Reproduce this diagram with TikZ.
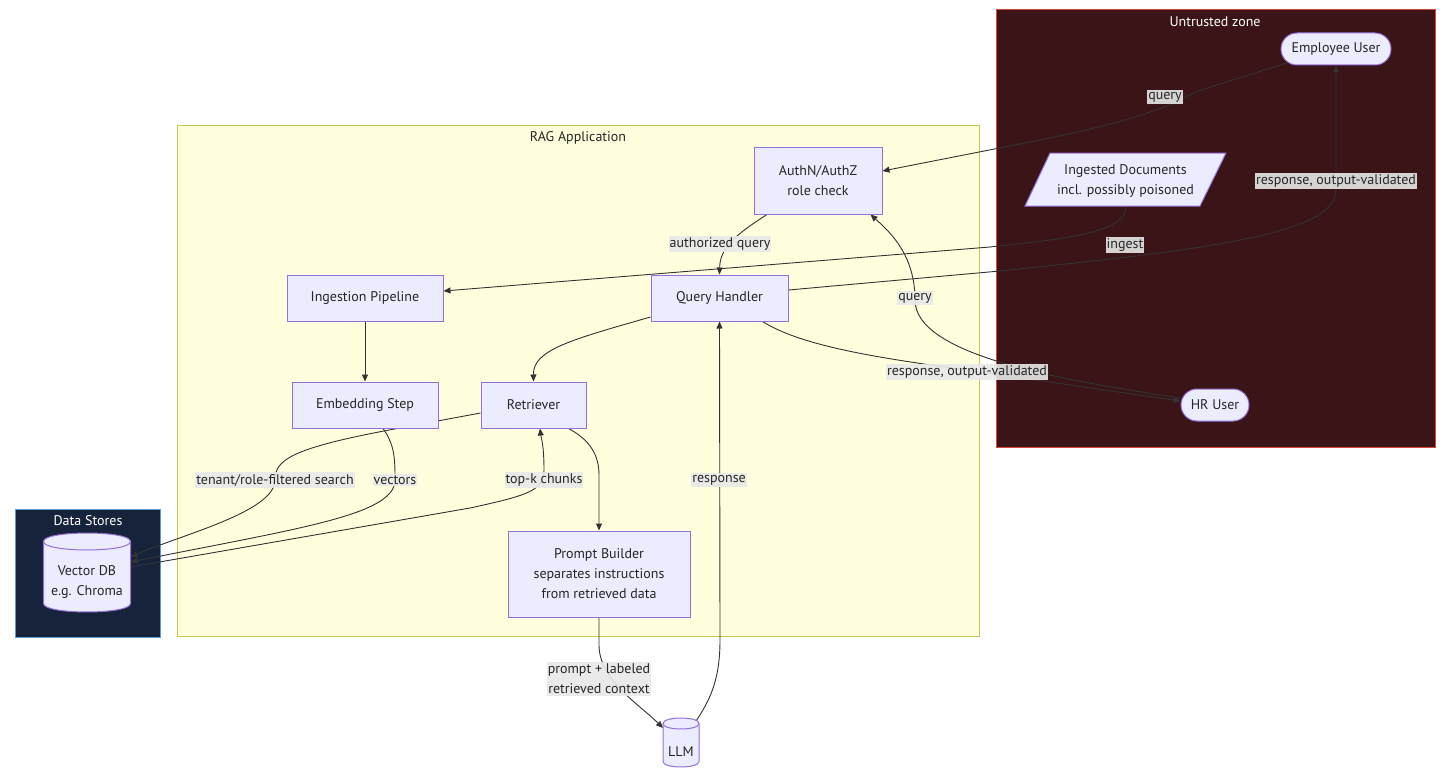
\documentclass[tikz,border=0pt]{standalone}
\usepackage{fontspec}
\setmainfont{PT Sans}
\usetikzlibrary{arrows.meta,calc}
\definecolor{nodefill}{HTML}{ECECFF}
\definecolor{nodeline}{HTML}{9370DB}
\definecolor{ragfill}{HTML}{FFFFDE}
\definecolor{ragline}{HTML}{C8C850}
\definecolor{untrfill}{HTML}{3A1416}
\definecolor{untrline}{HTML}{D9453B}
\definecolor{dsfill}{HTML}{16233A}
\definecolor{dsline}{HTML}{5B9BD0}
\definecolor{edgec}{HTML}{333333}
\definecolor{textc}{HTML}{262626}
\definecolor{labelbg}{HTML}{E8E8E8}
\pgfdeclarelayer{bg}
\pgfdeclarelayer{edges}
\pgfsetlayers{bg,edges,main}
\tikzset{
  box/.style={draw=nodeline, fill=nodefill, line width=1pt, text=textc, align=center, inner sep=0pt},
  stadium/.style={box, rounded corners=16pt},
  shapeln/.style={draw=nodeline, fill=nodefill, line width=1pt},
  txt/.style={text=textc, align=center, inner sep=0pt},
  edge/.style={draw=edgec, line width=0.9pt, -{Triangle[length=7pt,width=6pt]}},
  elabel/.style={fill=labelbg, fill opacity=0.9, text opacity=1, text=textc, inner xsep=1pt, inner ysep=2pt, align=center},
  ctitle/.style={inner sep=0pt}
}
\begin{document}
\begin{tikzpicture}[x=1pt,y=-1pt,font=\fontsize{14}{20}\selectfont]
\useasboundingbox (0,0) rectangle (1456,773);
\begin{pgfonlayer}{bg}
\fill[white] (0,0) rectangle (1456,773);
\filldraw[fill=ragfill, draw=ragline, line width=1pt] (177,126) rectangle (979,636);
\filldraw[fill=untrfill, draw=untrline, line width=1pt] (996,10) rectangle (1435,447);
\filldraw[fill=dsfill, draw=dsline, line width=1pt] (15,509) rectangle (160,637);
\end{pgfonlayer}
\node[ctitle, text=textc] (ragtitle) at (578,138) {RAG Application};
\node[ctitle, text=white] (untrtitle) at (1215,22) {Untrusted zone};
\node[ctitle, text=white] (dstitle) at (88,521) {Data Stores};

% nodes
\node[box, minimum width=128pt, minimum height=66pt] (authn) at (818,181) {AuthN/AuthZ\\role check};
\node[box, minimum width=137pt, minimum height=46pt] (qh) at (719.5,298) {Query Handler};
\node[box, minimum width=156pt, minimum height=46pt] (ingp) at (365,298) {Ingestion Pipeline};
\node[box, minimum width=146pt, minimum height=46pt] (embed) at (365,405) {Embedding Step};
\node[box, minimum width=105pt, minimum height=46pt] (retr) at (533.5,405) {Retriever};
\node[box, minimum width=182pt, minimum height=86pt] (pb) at (599,574) {Prompt Builder\\separates instructions\\from retrieved data};
\node[stadium, minimum width=110pt, minimum height=32pt] (emp) at (1336,49) {Employee User};
\node[stadium, minimum width=68pt, minimum height=32pt] (hr) at (1215,405) {HR User};
% parallelogram
\filldraw[shapeln] (1050,153) -- (1226,153) -- (1200,206) -- (1025,206) -- cycle;
\node[txt, minimum width=170pt, minimum height=53pt] (docs) at (1125.5,180.5) {Ingested Documents\\incl. possibly poisoned};
% vector db cylinder
\filldraw[shapeln] (43.5,541.5) -- (43.5,603.5) .. controls (43.5,614.8) and (130.5,614.8) .. (130.5,603.5) -- (130.5,541.5) .. controls (130.5,530.2) and (43.5,530.2) .. cycle;
\draw[draw=nodeline, line width=1pt] (43.5,541.5) .. controls (43.5,552.8) and (130.5,552.8) .. (130.5,541.5);
\node[txt, minimum width=87pt] (vdb) at (87,582.5) {Vector DB\\e.g. Chroma};
% llm cylinder
\filldraw[shapeln] (663,723.5) -- (663,761.5) .. controls (663,768.8) and (699,768.8) .. (699,761.5) -- (699,723.5) .. controls (699,716.2) and (663,716.2) .. cycle;
\draw[draw=nodeline, line width=1pt] (663,723.5) .. controls (663,730.8) and (699,730.8) .. (699,723.5);
\node[txt, minimum width=36pt] (llm) at (681,752) {LLM};

\begin{pgfonlayer}{edges}
% Employee -> AuthN
\draw[edge] ([xshift=-48pt,yshift=3pt]emp.south) -- (1195,92) .. controls (1165,110) and (1120,124) .. (1030,142) -- ([yshift=10pt]authn.east);
% HR -> AuthN
\draw[edge] ([yshift=7pt]hr.west) .. controls (1060,380) and (915,355) .. (915,300) .. controls (915,255) and (890,232) .. ([xshift=-12pt]authn.south east);
% AuthN -> QH
\draw[edge] ([xshift=-51pt]authn.south) .. controls (735,235) and (720,248) .. (qh.north);
% Docs -> Ingestion
\draw[edge] (docs.south) .. controls (1126,235) and (1050,240) .. (990,247) -- ([yshift=7pt]ingp.east);
% QH -> Employee
\draw[edge] ([yshift=8pt]qh.east) -- (1000,271) .. controls (1200,250) and (1336,235) .. (1336,190) -- (emp.south);
% QH -> HR
\draw[edge] ([xshift=43pt]qh.south) .. controls (800,345) and (870,357) .. (967,370) -- ([yshift=4pt]hr.west);
% QH -> Retriever
\draw[edge] ([yshift=-19pt]qh.west) .. controls (570,340) and (533,350) .. (retr.north);
% Ingestion -> Embedding
\draw[edge] (ingp.south) -- (embed.north);
% Embedding -> VDB
\draw[edge] ([xshift=18pt]embed.south) .. controls (395,445) and (395,460) .. (395,480) .. controls (395,515) and (300,528) .. ([yshift=20.5pt]vdb.east);
% Retriever -> VDB
\draw[edge] ([yshift=-8pt]retr.west) -- (400,428) .. controls (290,448) and (275,460) .. (275,480) .. controls (275,512) and (180,535) .. ([yshift=25.5pt]vdb.east);
% VDB -> Retriever
\draw[edge] ([yshift=15.5pt]vdb.east) -- (470,508) .. controls (530,495) and (544,490) .. (544,470) .. controls (544,445) and (541,437) .. ([xshift=6.5pt]retr.south);
% Retriever -> Prompt Builder
\draw[edge] ([xshift=35pt]retr.south) .. controls (590,440) and (599,455) .. (599,475) -- (pb.north);
% Prompt Builder -> LLM
\draw[edge] (pb.south) -- (599,645) .. controls (599,680) and (640,705) .. ([xshift=-18pt,yshift=24pt]llm.center);
% LLM -> QH
\draw[edge] ([xshift=15pt,yshift=31pt]llm.center) .. controls (710,700) and (720,680) .. (720,640) -- (qh.south);
\end{pgfonlayer}

% edge labels
\node[elabel] (l1) at (1165,97) {query};
\node[elabel] (l2) at (915,298) {query};
\node[elabel] (l3) at (720,244) {authorized query};
\node[elabel] (l4) at (1125,245) {ingest};
\node[elabel] (l5) at (1336,181) {response, output-validated};
\node[elabel] (l6) at (967,372) {response, output-validated};
\node[elabel] (l7) at (275,480) {tenant/role-filtered search};
\node[elabel] (l8) at (395,480) {vectors};
\node[elabel] (l9) at (544,480) {top-k chunks};
\node[elabel] (l10) at (719,480) {response};
\node[elabel] (l11) at (599,679) {prompt + labeled\\retrieved context};
\end{tikzpicture}
\end{document}
